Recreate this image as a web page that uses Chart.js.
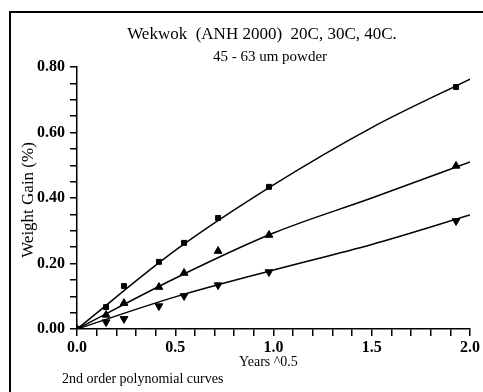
<!DOCTYPE html>
<html>
<head>
<meta charset="utf-8">
<script src="https://cdn.jsdelivr.net/npm/chart.js@4/dist/chart.umd.min.js"></script>
<style>
  html, body { margin:0; padding:0; background:#fff; }
  #wrap { position:relative; width:483px; height:392px; }
</style>
</head>
<body>
<div id="wrap"><canvas id="chart" width="483" height="392"></canvas></div>
<script>
// measured points, x = years^0.5
const sqrtYears = [0, 0.148, 0.239, 0.417, 0.545, 0.718, 0.977, 1.929];
const gain40C = [0, 0.067, 0.131, 0.205, 0.263, 0.339, 0.434, 0.739];
const gain30C = [0, 0.043, 0.079, 0.128, 0.171, 0.238, 0.287, 0.498];
const gain20C = [0, 0.021, 0.031, 0.070, 0.101, 0.134, 0.174, 0.330];

// fitted curves
const curveX = [0, 0.5, 1.0, 1.5, 2.0];
const fit40C = [0, 0.240, 0.440, 0.615, 0.763];
const fit30C = [0, 0.155, 0.293, 0.400, 0.510];
const fit20C = [0, 0.098, 0.180, 0.258, 0.348];

const SERIF = "'Liberation Serif', 'DejaVu Serif', serif";
const INK = '#000';

const pts = (xs, ys) => xs.map((x, i) => ({ x: x, y: ys[i] }));

function curve(ys) {
  return {
    type:'line', data: pts(curveX, ys),
    borderColor: INK, borderWidth: 1.5,
    pointRadius: 0, fill: false,
    cubicInterpolationMode: 'monotone', order: 2
  };
}

function markers(ys, style, radius, rotation) {
  return {
    type:'scatter', data: pts(sqrtYears, ys),
    showLine: false,
    pointStyle: style, pointRadius: radius, rotation: rotation || 0,
    pointBackgroundColor: INK, pointBorderColor: INK, pointBorderWidth: 1,
    order: 1
  };
}

// frame + free text labels
const decorations = {
  id: 'decorations',
  afterDraw(chart) {
    const c = chart.ctx;
    c.save();
    c.strokeStyle = INK;
    c.lineWidth = 2;
    c.beginPath();
    c.moveTo(10, 392);
    c.lineTo(10, 12);
    c.lineTo(483, 12);
    c.stroke();

    c.fillStyle = INK;
    c.textAlign = 'center';
    c.textBaseline = 'middle';
    c.font = '17px ' + SERIF;
    c.fillText('Wekwok  (ANH 2000)  20C, 30C, 40C.', 262, 35);
    c.font = '15px ' + SERIF;
    c.fillText('45 - 63 um powder', 270, 57);

    c.textAlign = 'left';
    c.font = '14px ' + SERIF;
    c.fillText('Years ^0.5', 239, 362);
    c.fillText('2nd order polynomial curves', 62, 379);

    c.translate(29, 200);
    c.rotate(-Math.PI / 2);
    c.textAlign = 'center';
    c.font = '17px ' + SERIF;
    c.fillText('Weight Gain (%)', 0, 0);
    c.restore();
  }
};

new Chart(document.getElementById('chart'), {
  data: {
    datasets: [
      curve(fit40C), curve(fit30C), curve(fit20C),
      markers(gain40C, 'rect', 3.5),
      markers(gain30C, 'triangle', 4.5),
      markers(gain20C, 'triangle', 4.5, 180)
    ]
  },
  options: {
    responsive: false,
    animation: false,
    layout: { padding: { top: 67, right: 13, left: 0, bottom: 0 } },
    plugins: { legend: { display:false }, tooltip: { enabled:false } },
    scales: {
      x: {
        type: 'linear', min: 0, max: 2,
        afterFit: s => { s.height = 63; },
        border: { color: INK, width: 1.5 },
        grid: { display: true, drawOnChartArea: false, drawTicks: true, tickLength: 7, color: INK, lineWidth: 1.5 },
        ticks: {
          stepSize: 0.1, autoSkip: false, maxRotation: 0,
          color: INK, padding: 2,
          font: { family: SERIF, size: 16, weight: 'bold' },
          callback: v => (Math.abs(v * 2 - Math.round(v * 2)) < 1e-6 ? v.toFixed(1) : '')
        }
      },
      y: {
        type: 'linear', min: 0, max: 0.8,
        afterFit: s => { s.width = 77; },
        border: { color: INK, width: 1.5 },
        grid: { display: true, drawOnChartArea: false, drawTicks: true, tickLength: 7, color: INK, lineWidth: 1.5 },
        ticks: {
          stepSize: 0.05, autoSkip: false,
          color: INK, padding: 5,
          font: { family: SERIF, size: 16, weight: 'bold' },
          callback: v => (Math.abs(v * 5 - Math.round(v * 5)) < 1e-6 ? v.toFixed(2) : '')
        }
      }
    }
  },
  plugins: [decorations]
});
</script>
</body>
</html>
